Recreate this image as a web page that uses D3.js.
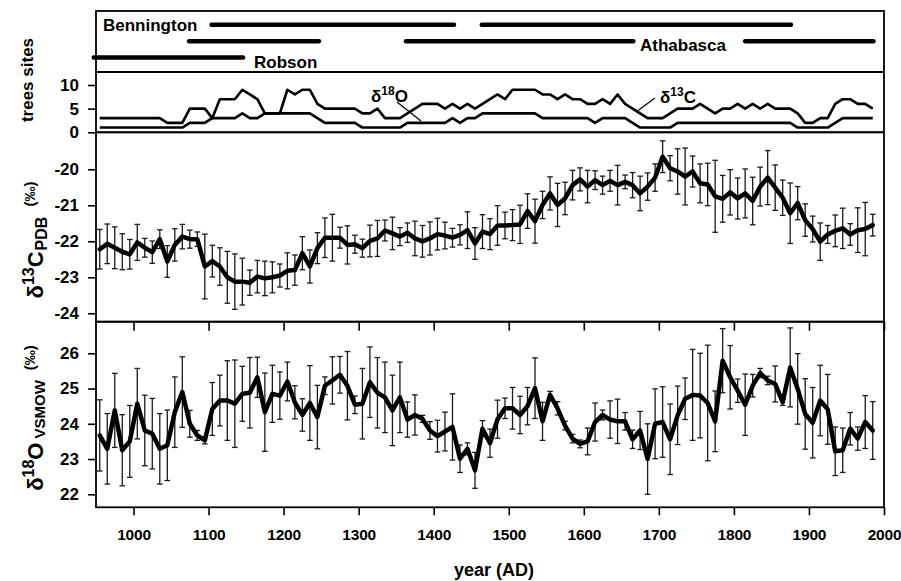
<!DOCTYPE html>
<html><head><meta charset="utf-8">
<script src="https://cdn.jsdelivr.net/npm/d3@7"></script>
<style>
body{margin:0;background:#fff}
text{font-family:"Liberation Sans",Arial,Helvetica,sans-serif;font-weight:bold;fill:#000}
</style>
</head><body>
<svg id="c" width="901" height="581"></svg>
<script>
// ---------- data ----------
const years = [955,965,975,985,995,1005,1015,1025,1035,1045,1055,1065,1075,1085,1095,1105,1115,1125,1135,1145,
1155,1165,1175,1185,1195,1205,1215,1225,1235,1245,1255,1265,1275,1285,1295,1305,1315,1325,1335,1345,
1355,1365,1375,1385,1395,1405,1415,1425,1435,1445,1455,1465,1475,1485,1495,1505,1515,1525,1535,1545,
1555,1565,1575,1585,1595,1605,1615,1625,1635,1645,1655,1665,1675,1685,1695,1705,1715,1725,1735,1745,
1755,1765,1775,1785,1795,1805,1815,1825,1835,1845,1855,1865,1875,1885,1895,1905,1915,1925,1935,1945,
1955,1965,1975,1985];

const d13C = [-22.22,-22.07,-22.18,-22.29,-22.36,-22.03,-22.18,-22.30,-21.94,-22.56,
-22.10,-21.87,-21.94,-21.94,-22.70,-22.55,-22.70,-23.00,-23.12,-23.12,
-23.15,-22.98,-23.03,-23.00,-22.95,-22.82,-22.80,-22.33,-22.70,-22.19,
-21.90,-21.90,-21.90,-22.10,-22.08,-22.19,-21.99,-21.92,-21.70,-21.78,
-21.87,-21.76,-21.92,-22.00,-21.92,-21.80,-21.84,-21.90,-21.82,-21.69,
-22.06,-21.73,-21.80,-21.56,-21.56,-21.55,-21.53,-21.16,-21.44,-20.99,
-20.67,-20.99,-20.81,-20.44,-20.28,-20.48,-20.30,-20.44,-20.32,-20.44,
-20.35,-20.44,-20.67,-20.48,-20.23,-19.65,-19.97,-20.06,-20.20,-20.06,
-20.39,-20.42,-20.75,-20.82,-20.64,-20.81,-20.67,-20.88,-20.48,-20.23,
-20.51,-20.79,-21.22,-20.94,-21.41,-21.66,-22.01,-21.81,-21.71,-21.64,
-21.81,-21.69,-21.66,-21.55];

const d13CErr = [0.55,0.55,0.58,0.50,0.41,0.50,0.26,0.31,0.26,0.44,
0.45,0.34,0.25,0.20,0.90,0.44,0.52,0.72,0.77,0.65,
0.35,0.45,0.48,0.43,0.32,0.50,0.42,0.46,0.46,0.43,
0.55,0.65,0.29,0.53,0.25,0.25,0.44,0.50,0.29,0.45,
0.25,0.27,0.48,0.44,0.46,0.44,0.37,0.26,0.28,0.51,
0.44,0.47,0.43,0.55,0.37,0.43,0.53,0.48,0.61,0.38,
0.46,0.60,0.45,0.41,0.32,0.45,0.26,0.25,0.29,0.55,
0.19,0.35,0.48,0.38,0.38,0.44,0.35,0.63,0.79,0.43,
0.54,0.59,1.00,0.65,0.63,0.57,0.68,0.66,0.54,0.75,
0.63,0.49,0.84,0.46,0.45,0.36,0.52,0.25,0.44,0.56,
0.30,0.62,0.74,0.30];

const d18O = [23.67,23.29,24.38,23.25,23.50,24.57,23.81,23.72,23.29,23.39,
24.33,24.90,24.00,23.67,23.53,24.42,24.66,24.66,24.57,24.85,
24.88,25.32,24.33,24.85,24.80,25.20,24.61,24.25,24.59,24.19,
25.08,25.23,25.39,25.08,24.54,24.57,25.18,24.88,24.75,24.38,
24.75,24.12,24.25,24.14,23.81,23.65,23.78,23.91,23.01,23.29,
22.68,23.86,23.45,24.13,24.44,24.44,24.25,24.50,25.01,24.07,
24.82,24.44,23.95,23.58,23.43,23.50,24.05,24.25,24.12,24.07,
24.07,23.56,23.81,23.00,24.00,24.05,23.56,24.24,24.71,24.82,
24.80,24.59,24.07,25.79,25.32,24.94,24.54,25.08,25.44,25.23,
25.13,24.61,25.60,24.99,24.28,24.03,24.66,24.41,23.22,23.25,
23.86,23.58,24.05,23.81];

const d18OErr = [1.01,1.00,1.05,1.01,1.02,1.00,1.00,1.00,1.00,1.00,
1.00,1.00,0.38,0.14,0.10,0.75,0.72,1.13,1.24,0.78,
1.00,0.57,1.11,0.81,0.67,0.55,0.47,0.46,1.06,0.90,
0.25,0.67,0.52,0.97,0.25,1.00,1.00,1.00,1.00,1.00,
1.00,0.50,0.57,0.10,0.25,0.45,0.55,0.94,0.39,0.17,
0.51,0.23,0.40,0.54,0.29,0.59,0.53,0.53,0.86,0.54,
0.10,0.19,0.12,0.12,0.11,0.38,0.54,0.14,0.53,0.63,
0.25,0.26,0.54,1.00,0.99,1.00,1.00,0.83,0.59,1.29,
1.20,1.64,0.86,0.91,0.90,0.33,0.87,0.32,0.13,0.12,
0.51,0.09,1.12,1.00,1.00,1.00,1.00,0.99,0.69,0.63,
0.46,0.33,0.75,0.82];

const treesC = [3,3,3,3,3,3,3,3,3,2,2,2,5,5,5,3,7,7,7,9,
8,7,4,4,4,9,8,9,9,6,5,5,5,5,5,4,4,5,3,3,
3,4,5,6,6,6,5,6,5,6,5,6,7,8,7,9,9,9,9,8,
8,7,8,7,7,6,6,7,6,8,6,5,4,3,3,3,4,5,5,5,
6,5,4,5,5,6,5,6,5,6,5,5,5,4,2,2,3,3,6,7,
7,6,6,5];

const treesO = [1,1,1,1,1,1,1,1,1,1,1,1,2,2,2,3,3,3,3,4,
3,3,4,4,4,4,4,4,4,3,2,2,2,2,2,1,1,1,1,1,
1,2,2,2,2,2,2,3,2,3,3,4,4,4,4,4,4,4,4,3,
3,3,3,3,3,3,2,3,3,3,3,2,1,1,1,1,1,2,2,2,
2,2,2,2,2,2,2,2,2,2,2,2,2,1,1,1,1,1,2,3,
3,3,3,3];

const siteNames = ["Bennington","Athabasca","Robson"];
const segSite  = ["Bennington","Bennington","Athabasca","Athabasca","Athabasca","Robson"];
const segStart = [1104,1464,1074,1363,1815,947];
const segEnd   = [1427,1876,1247,1666,1986,1146];

const xTicks = [1000,1100,1200,1300,1400,1500,1600,1700,1800,1900,2000];
const treeTicks = [0,5,10];
const cTicks = [-24,-23,-22,-21,-20];
const oTicks = [22,23,24,25,26];

// ---------- layout ----------
const L = 96, R = 884;
const T0 = 11, T1 = 72, T2 = 132.3, T3 = 321.7, T4 = 507.3;
const FONT = '"Liberation Sans",Arial,Helvetica,sans-serif';

const svg = d3.select("#c");
const x = d3.scaleLinear().domain([950, 2000]).range([L, R]);
const yRow = d3.scalePoint().domain(siteNames).range([24.8, 57.5]);
const yTree = d3.scaleLinear().domain([0, 12.75]).range([T2, T1]);
const yC = d3.scaleLinear().domain([-24.233, -18.972]).range([T3, T2]);
const yO = d3.scaleLinear().domain([21.631, 26.896]).range([T4, T3]);

// ---------- site bars ----------
svg.append("g").selectAll("line").data(segSite).join("line")
  .attr("x1", (d,i) => x(segStart[i])).attr("x2", (d,i) => x(segEnd[i]))
  .attr("y1", d => yRow(d)).attr("y2", d => yRow(d))
  .attr("stroke", "#000").attr("stroke-width", 4.5).attr("stroke-linecap", "round");

svg.append("text").attr("x", 103).attr("y", yRow("Bennington") + 6).style("font-size", "17px").text(siteNames[0]);
svg.append("text").attr("x", 640).attr("y", yRow("Athabasca") + 10).style("font-size", "17px").text(siteNames[1]);
svg.append("text").attr("x", 254).attr("y", yRow("Robson") + 10).style("font-size", "17px").text(siteNames[2]);

// ---------- tree counts ----------
const lineTree = d3.line().x((d,i) => x(years[i])).y(d => yTree(d));
[treesC, treesO].forEach(s => {
  svg.append("path").attr("d", lineTree(s)).attr("fill", "none")
    .attr("stroke", "#000").attr("stroke-width", 2.6).attr("stroke-linejoin", "round");
});

// annotations
const a1 = svg.append("text").attr("x", 371).attr("y", 102).style("font-size", "17px");
a1.append("tspan").text("δ");
a1.append("tspan").attr("dy", -7).style("font-size", "12px").text("18");
a1.append("tspan").attr("dy", 7).text("O");
svg.append("line").attr("x1", 397).attr("y1", 102).attr("x2", 421).attr("y2", 121).attr("stroke", "#000").attr("stroke-width", 1.2);

const a2 = svg.append("text").attr("x", 660).attr("y", 103).style("font-size", "17px");
a2.append("tspan").text("δ");
a2.append("tspan").attr("dy", -7).style("font-size", "12px").text("13");
a2.append("tspan").attr("dy", 7).text("C");
svg.append("line").attr("x1", 655).attr("y1", 98).attr("x2", 636).attr("y2", 112).attr("stroke", "#000").attr("stroke-width", 1.2);

// ---------- error-bar series ----------
function series(vals, errs, y) {
  const g = svg.append("g");
  const cap = 2.8;
  const eb = g.selectAll("g.eb").data(vals).join("g").attr("class", "eb");
  eb.append("line").attr("x1", (d,i) => x(years[i])).attr("x2", (d,i) => x(years[i]))
    .attr("y1", (d,i) => y(d - errs[i])).attr("y2", (d,i) => y(d + errs[i]));
  eb.append("line").attr("x1", (d,i) => x(years[i]) - cap).attr("x2", (d,i) => x(years[i]) + cap)
    .attr("y1", (d,i) => y(d + errs[i])).attr("y2", (d,i) => y(d + errs[i]));
  eb.append("line").attr("x1", (d,i) => x(years[i]) - cap).attr("x2", (d,i) => x(years[i]) + cap)
    .attr("y1", (d,i) => y(d - errs[i])).attr("y2", (d,i) => y(d - errs[i]));
  eb.selectAll("line").attr("stroke", "#1a1a1a").attr("stroke-width", 1.3);
  const ln = d3.line().x((d,i) => x(years[i])).y(d => y(d));
  g.append("path").attr("d", ln(vals)).attr("fill", "none").attr("stroke", "#000")
    .attr("stroke-width", 4.5).attr("stroke-linejoin", "round").attr("stroke-linecap", "round");
}
series(d13C, d13CErr, yC);
series(d18O, d18OErr, yO);

// ---------- frames ----------
[[T0,T1],[T1,T2],[T2,T3],[T3,T4]].forEach(([a,b]) => {
  svg.append("rect").attr("x", L).attr("y", a).attr("width", R - L).attr("height", b - a)
    .attr("fill", "none").attr("stroke", "#000").attr("stroke-width", 1.8);
});

// ---------- axes ----------
const fmt = d => String(d);
function styleAxis(g, fs, ls) {
  g.select(".domain").remove();
  g.selectAll(".tick line").attr("stroke", "#000").attr("stroke-width", 1.6);
  g.selectAll(".tick text").style("font-size", fs).attr("fill", "#000")
    .style("font-family", FONT).style("font-weight", "bold").style("letter-spacing", ls || "0px");
}
svg.append("g").attr("transform", `translate(${L},0)`)
  .call(d3.axisLeft(yTree).tickValues(treeTicks).tickSize(8).tickPadding(9).tickFormat(fmt)).call(g => styleAxis(g, "17px"));
svg.append("g").attr("transform", `translate(${L},0)`)
  .call(d3.axisLeft(yC).tickValues(cTicks).tickSize(8).tickPadding(9).tickFormat(fmt)).call(g => styleAxis(g, "17px"));
svg.append("g").attr("transform", `translate(${L},0)`)
  .call(d3.axisLeft(yO).tickValues(oTicks).tickSize(8).tickPadding(9).tickFormat(fmt)).call(g => styleAxis(g, "17px"));
svg.append("g").attr("transform", `translate(0,${T4})`)
  .call(d3.axisBottom(x).tickValues(xTicks).tickSize(8).tickPadding(14).tickFormat(fmt))
  .call(g => styleAxis(g, "15.5px", "-0.2px"));
svg.append("g").attr("transform", `translate(0,${T3})`)
  .call(d3.axisTop(x).tickValues(xTicks).tickSize(-9).tickFormat(() => ""))
  .call(g => styleAxis(g, "1px"));

// ---------- axis titles ----------
svg.append("text").attr("x", 494).attr("y", 576).attr("text-anchor", "middle").style("font-size", "18px").text("year (AD)");

svg.append("text").attr("transform", "translate(33,80) rotate(-90)").attr("text-anchor", "middle")
  .style("font-size", "17px").text("trees sites");

const tc = svg.append("text").attr("transform", "translate(43,240) rotate(-90)").attr("text-anchor", "middle").style("font-size", "22px");
tc.append("tspan").text("δ");
tc.append("tspan").attr("dy", -9).style("font-size", "16px").text("13");
tc.append("tspan").attr("dy", 9).text("C");
tc.append("tspan").attr("dy", 4).attr("dx", 1).style("font-size", "16px").text("PDB");
tc.append("tspan").attr("dx", 10).attr("dy", -12).style("font-size", "15px").text("(‰)");

const to = svg.append("text").attr("transform", "translate(43,418) rotate(-90)").attr("text-anchor", "middle").style("font-size", "22px");
to.append("tspan").text("δ");
to.append("tspan").attr("dy", -9).style("font-size", "16px").text("18");
to.append("tspan").attr("dy", 9).text("O");
to.append("tspan").attr("dy", 2).attr("dx", 4).style("font-size", "15px").text("VSMOW");
to.append("tspan").attr("dx", 10).attr("dy", -10).style("font-size", "15px").text("(‰)");
</script>
</body></html>
